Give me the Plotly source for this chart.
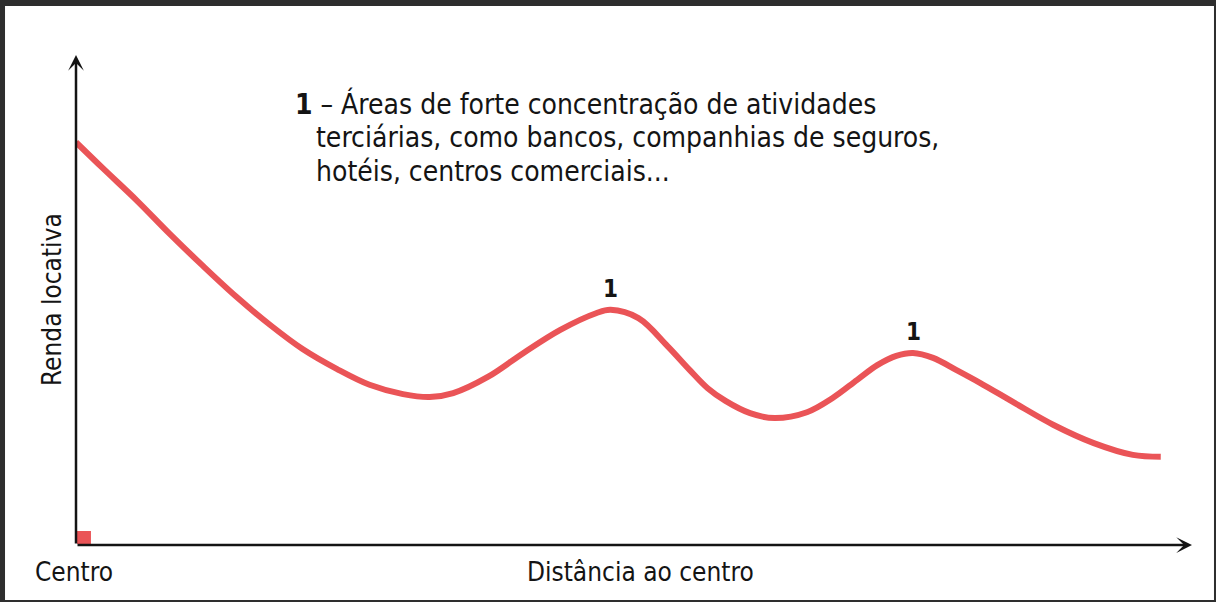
import plotly.graph_objects as go

# distância ao centro (unidades arbitrárias, 0 = centro) e renda locativa
distancia = [0.0, 2.4, 5.5, 8.4, 11.4, 14.4, 17.4, 20.3, 23.4, 26.3, 29.3, 31.7, 33.8,
             36.9, 40.1, 43.4, 46.6, 47.9, 50.4, 53.0, 55.0, 56.6, 58.2, 60.4, 62.6, 65.5,
             67.8, 70.0, 71.8, 73.5, 75.0, 76.8, 78.9, 81.0, 84.1, 87.6, 91.2, 94.7, 97.2]
renda = [82.2, 76.9, 70.2, 63.5, 56.9, 50.6, 44.9, 40.0, 35.9, 32.7, 30.8, 30.2, 31.0,
         34.3, 39.2, 43.9, 47.3, 48.0, 46.3, 40.6, 35.7, 32.0, 29.4, 26.9, 25.9, 27.1,
         30.0, 33.7, 36.7, 38.6, 39.2, 38.2, 35.7, 33.1, 29.0, 24.5, 20.8, 18.4, 18.0]
picos = [17, 30]  # índices dos picos marcados com "1"

eixo_x_max = 100
eixo_y_max = 100

titulo_linhas = [
    "<b>1</b> – Áreas de forte concentração de atividades",
    "terciárias, como bancos, companhias de seguros,",
    "hotéis, centros comerciais...",
]

VERMELHO = "#ea5457"
PRETO = "#141414"
FONTE = "DejaVu Sans Condensed, Liberation Sans Narrow, sans-serif"

fig = go.Figure()
fig.add_trace(go.Scatter(
    x=distancia, y=renda, mode="lines",
    line=dict(color=VERMELHO, width=6, shape="spline", smoothing=1.0),
    hoverinfo="skip", showlegend=False,
))

anots = []
# eixos com setas
anots.append(dict(x=eixo_x_max, y=0, ax=0, ay=0, xref="x", yref="y", axref="x", ayref="y",
                  showarrow=True, arrowhead=3, arrowsize=1.05, arrowwidth=2.5,
                  arrowcolor=PRETO, text=""))
anots.append(dict(x=0, y=eixo_y_max, ax=0, ay=0, xref="x", yref="y", axref="x", ayref="y",
                  showarrow=True, arrowhead=3, arrowsize=1.05, arrowwidth=2.5,
                  arrowcolor=PRETO, text=""))
# rótulos "1" nos picos
for i in picos:
    anots.append(dict(x=distancia[i], y=renda[i], text="<b>1</b>", showarrow=False,
                      yshift=21, font=dict(size=24, color=PRETO, family=FONTE)))
# texto explicativo, uma anotação por linha
for linha, xp, yp in zip(titulo_linhas, [0.1944, 0.2133, 0.2133], [0.9388, 0.8694, 0.80]):
    anots.append(dict(x=xp, y=yp, xref="paper", yref="paper", xanchor="left", yanchor="top",
                      text=linha, showarrow=False,
                      font=dict(size=28, color=PRETO, family=FONTE)))
# títulos dos eixos
anots.append(dict(x=-0.0215, y=0.5, xref="paper", yref="paper", text="Renda locativa",
                  xanchor="center", yanchor="middle", textangle=-90, showarrow=False,
                  font=dict(size=26, color=PRETO, family=FONTE)))
anots.append(dict(x=-0.0022, y=-0.0551, xref="paper", yref="paper", text="Centro",
                  xanchor="center", yanchor="middle", showarrow=False,
                  font=dict(size=26, color=PRETO, family=FONTE)))
anots.append(dict(x=0.5054, y=-0.0551, xref="paper", yref="paper", text="Distância ao centro",
                  xanchor="center", yanchor="middle", showarrow=False,
                  font=dict(size=26, color=PRETO, family=FONTE)))

fig.update_layout(
    width=1216, height=602,
    margin=dict(l=76, r=24, t=55, b=57),
    paper_bgcolor="#2e2e2e",
    plot_bgcolor="white",
    xaxis=dict(range=[0, eixo_x_max], visible=False, fixedrange=True),
    yaxis=dict(range=[0, eixo_y_max], visible=False, fixedrange=True),
    annotations=anots,
    shapes=[
        # fundo branco com moldura escura
        dict(type="rect", xref="paper", yref="paper", x0=-0.0636, x1=1.0197, y0=-0.1122, y1=1.1,
             fillcolor="white", line=dict(width=0), layer="below"),
        # marcador de ângulo reto na origem
        dict(type="rect", xref="paper", yref="paper", x0=0.0009, x1=0.0134, y0=0.002, y1=0.0286,
             fillcolor=VERMELHO, line=dict(width=0), layer="below"),
    ],
)

fig.write_html("out.html", config={"displayModeBar": False},
               post_script="document.body.style.margin='0';document.body.style.overflow='hidden';")
